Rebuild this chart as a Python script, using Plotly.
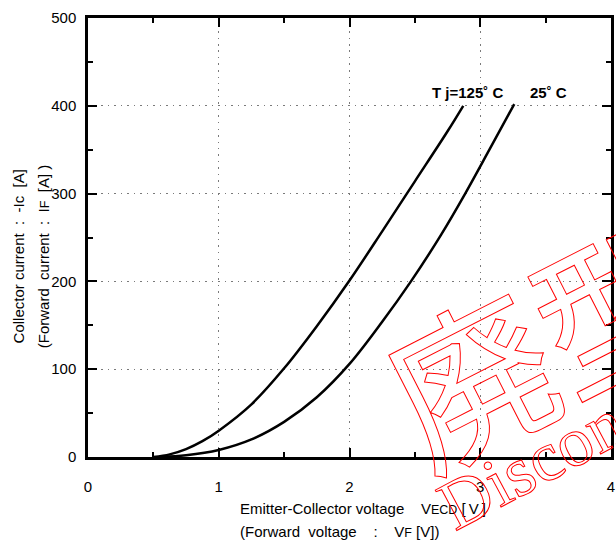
import plotly.graph_objects as go

# ---- data ----
vf_125 = [0.5, 0.625, 0.75, 0.875, 1.0, 1.25, 1.5, 1.75, 2.0, 2.25, 2.5, 2.75, 2.87]
ic_125 = [0, 3, 9, 18, 30, 60, 101, 149, 201, 257, 314, 371, 400]

vf_25 = [0.55, 0.75, 1.0, 1.25, 1.5, 1.75, 2.0, 2.25, 2.47, 2.7, 2.885, 3.07, 3.26]
ic_25 = [0, 2, 8, 20, 40, 68, 106, 154, 200, 253, 300, 350, 402]

x_ticks = [0, 1, 2, 3, 4]
y_ticks = [0, 100, 200, 300, 400, 500]
curve_labels = ["T j=125˚ C", "25˚ C"]
label_x = [2.9, 3.52]
label_y = [415, 415]

SANS = "Liberation Sans, Arial, sans-serif"
NB = "\u00a0"
TH = "\u2009"

fig = go.Figure()
for xs, ys in [(vf_125, ic_125), (vf_25, ic_25)]:
    fig.add_trace(go.Scatter(x=xs, y=ys, mode="lines",
                             line=dict(color="black", width=2.5, shape="spline", smoothing=1.0),
                             showlegend=False, hoverinfo="skip"))

axis_common = dict(
    showline=True, linecolor="black", linewidth=2.5, mirror="ticks",
    ticks="inside", ticklen=9, tickwidth=2, tickcolor="black",
    showgrid=True, gridcolor="#7a7a7a", gridwidth=1, griddash="1.5px,5px",
    zeroline=False,
    tickfont=dict(family=SANS, size=15, color="black"),
)

fig.update_xaxes(range=[0, 4], tickvals=x_ticks, ticktext=[str(v) for v in x_ticks],
                 minor=dict(dtick=0.5, ticks="inside", ticklen=5, tickwidth=1.5, tickcolor="black", showgrid=False),
                 ticklabelstandoff=14, **axis_common)
fig.update_yaxes(range=[0, 500], tickvals=y_ticks, ticktext=[str(v) for v in y_ticks],
                 minor=dict(dtick=50, ticks="inside", ticklen=5, tickwidth=1.5, tickcolor="black", showgrid=False),
                 ticklabelstandoff=6, **axis_common)

W, H = 616, 542
L, R, T, B = 88, 2, 18, 85
pw, ph = W - L - R, H - T - B


def px(xp):
    return (xp - L) / pw


def py(yp):
    return (H - B - yp) / ph


ann = []
for t, lx, ly in zip(curve_labels, label_x, label_y):
    ann.append(dict(x=lx, y=ly, xref="x", yref="y", text=t.replace(" ", NB), showarrow=False,
                    font=dict(family=SANS, size=15, color="black", weight="bold"),
                    xanchor="center", yanchor="middle"))

small = "<span style='font-size:12.5px'>%s</span>"
ann.append(dict(x=px(239), y=py(508), xref="paper", yref="paper",
                text="Emitter-Collector voltage" + NB * 4 + "V" + small % "ECD" + NB + "[" + TH + "V" + TH + "]",
                showarrow=False, xanchor="left", yanchor="middle",
                font=dict(family=SANS, size=15, color="black")))
ann.append(dict(x=px(239), y=py(531), xref="paper", yref="paper",
                text="(Forward" + NB * 2 + "voltage" + NB * 4 + ":" + NB * 4 + "V" + small % "F" + NB + "[V])",
                showarrow=False, xanchor="left", yanchor="middle",
                font=dict(family=SANS, size=15, color="black")))
ann.append(dict(x=px(18), y=py(256), xref="paper", yref="paper",
                text="Collector current" + NB * 2 + ":" + NB * 2 + "-Ic" + NB * 2 + "[A]", textangle=-90,
                showarrow=False, xanchor="center", yanchor="middle",
                font=dict(family=SANS, size=15, color="black")))
ann.append(dict(x=px(43), y=py(256), xref="paper", yref="paper",
                text="(Forward" + NB * 2 + "current" + NB * 2 + ":" + NB * 2 + "I" + small % "F" + NB * 2 + "[A]" + NB + ")",
                textangle=-90,
                showarrow=False, xanchor="center", yanchor="middle",
                font=dict(family=SANS, size=15, color="black")))

# watermark (outlined red)
ann.append(dict(x=px(543), y=py(336), xref="paper", yref="paper",
                text="廃型", textangle=-27, showarrow=False,
                xanchor="center", yanchor="middle",
                font=dict(family="Noto Sans CJK JP", size=162, color="red")))
ann.append(dict(x=px(611), y=py(423), xref="paper", yref="paper",
                text="Discontinued", textangle=-28, showarrow=False,
                xanchor="center", yanchor="middle",
                font=dict(family="Liberation Serif, Times New Roman, serif", size=70, color="red")))

fig.update_layout(
    width=W, height=H,
    margin=dict(l=L, r=R, t=T, b=B),
    plot_bgcolor="white", paper_bgcolor="white",
    annotations=ann,
    showlegend=False,
)

post = """
document.body.style.margin = '0';
document.body.style.padding = '0';
document.body.style.overflow = 'hidden';
var gd = document.getElementById('{plot_id}');
function outline(){
  gd.querySelectorAll('text.annotation-text').forEach(function(t){
    var s = t.textContent;
    if (s.indexOf('廃')>=0 || s.indexOf('Discon')>=0) {
      t.style.fill = 'none';
      t.style.stroke = 'rgb(255,0,0)';
      t.style.strokeWidth = '1px';
    }
  });
}
outline();
if (gd.on) { gd.on('plotly_afterplot', outline); }
"""
fig.write_html("out.html", post_script=post, config={"displayModeBar": False})
